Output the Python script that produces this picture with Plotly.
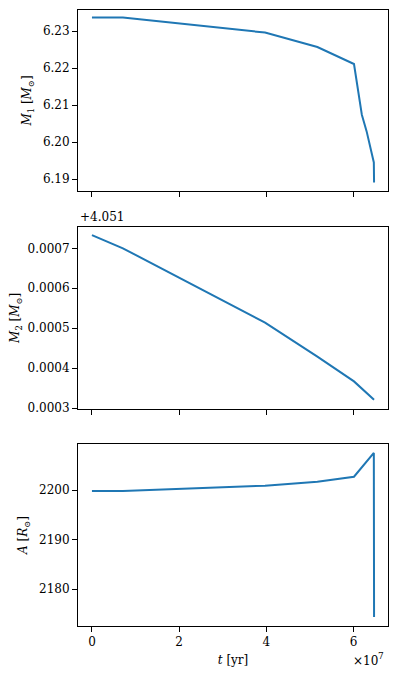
import plotly.graph_objects as go

# time in years
t = [0.0, 0.71e7, 3.97e7, 5.17e7, 6.01e7, 6.19e7, 6.30e7, 6.45e7, 6.465e7, 6.47e7, 6.47e7]
M1 = [6.2337, 6.2337, 6.2296, 6.2257, 6.2211, 6.2074, 6.2029, 6.1952, 6.1945, 6.1893, 6.1891]
M2 = [4.051733, 4.051700, 4.051514, 4.051429, 4.051367, 4.051349, 4.051337, 4.051323, 4.051322, 4.051321, 4.051321]
A = [2199.8, 2199.8, 2200.9, 2201.7, 2202.7, 2204.6, 2205.8, 2207.4, 2207.5, 2176.0, 2174.4]

x_ticks = [0, 2e7, 4e7, 6e7]
x_ticktext = ["0", "2", "4", "6"]
m1_ticks = [6.19, 6.20, 6.21, 6.22, 6.23]
m1_ticktext = ["6.19", "6.20", "6.21", "6.22", "6.23"]
m2_ticks = [4.0513, 4.0514, 4.0515, 4.0516, 4.0517]
m2_ticktext = ["0.0003", "0.0004", "0.0005", "0.0006", "0.0007"]
a_ticks = [2180, 2190, 2200]
a_ticktext = ["2180", "2190", "2200"]

FONT = "DejaVu Serif"
COLOR = "#1f77b4"
FS = 12

fig = go.Figure()
fig.add_trace(go.Scatter(x=t, y=M1, mode="lines", line=dict(color=COLOR, width=2), xaxis="x", yaxis="y"))
fig.add_trace(go.Scatter(x=t, y=M2, mode="lines", line=dict(color=COLOR, width=2), xaxis="x2", yaxis="y2"))
fig.add_trace(go.Scatter(x=t, y=A, mode="lines", line=dict(color=COLOR, width=2), xaxis="x3", yaxis="y3"))

xr = [-0.32e7, 6.79e7]
common = dict(showline=True, linecolor="black", linewidth=1, mirror=True, ticks="outside",
              ticklen=5, tickcolor="black", showgrid=False, zeroline=False,
              tickfont=dict(family=FONT, size=FS, color="black"))
tfont = dict(family=FONT, size=FS, color="black")

# page body has an 8px margin, so the figure is shrunk by 8px on each axis
fig.update_layout(
    width=389, height=669,
    margin=dict(l=70, r=9, t=2, b=51),
    plot_bgcolor="white", paper_bgcolor="white",
    showlegend=False,
    font=dict(family=FONT, size=FS, color="black"),
    xaxis=dict(domain=[0, 1], anchor="y", range=xr, tickvals=x_ticks, showticklabels=False, **common),
    xaxis2=dict(domain=[0, 1], anchor="y2", range=xr, tickvals=x_ticks, showticklabels=False, **common),
    xaxis3=dict(domain=[0, 1], anchor="y3", range=xr, tickvals=x_ticks, ticktext=x_ticktext,
                title=dict(text="<i>t</i> [yr]", standoff=7, font=tfont), **common),
    yaxis=dict(domain=[0.7062, 1.0], anchor="x", range=[6.1868, 6.2357], tickvals=m1_ticks, ticktext=m1_ticktext,
               title=dict(text="<i>M</i><sub>1</sub> [<i>M</i><sub>⊙</sub>]", standoff=8, font=tfont), **common),
    yaxis2=dict(domain=[0.3523, 0.6482], anchor="x2", range=[4.051298, 4.051754], tickvals=m2_ticks, ticktext=m2_ticktext,
                title=dict(text="<i>M</i><sub>2</sub> [<i>M</i><sub>⊙</sub>]", standoff=6, font=tfont), **common),
    yaxis3=dict(domain=[0, 0.2955], anchor="x3", range=[2172.6, 2209.3], tickvals=a_ticks, ticktext=a_ticktext,
                title=dict(text="<i>A</i> [<i>R</i><sub>⊙</sub>]", standoff=8, font=tfont), **common),
    annotations=[
        dict(text="+4.051", xref="paper", yref="paper", x=0, y=0.6482, xanchor="left", yanchor="middle",
             yshift=10, showarrow=False, font=tfont),
        dict(text="×10", xref="paper", yref="paper", x=1, y=0, xanchor="right", yanchor="middle",
             xshift=-8, yshift=-35, showarrow=False, font=tfont),
        dict(text="7", xref="paper", yref="paper", x=1, y=0, xanchor="right", yanchor="middle",
             xshift=-2, yshift=-30, showarrow=False, font=dict(family=FONT, size=9, color="black")),
    ],
)

fig.write_html("out.html")
